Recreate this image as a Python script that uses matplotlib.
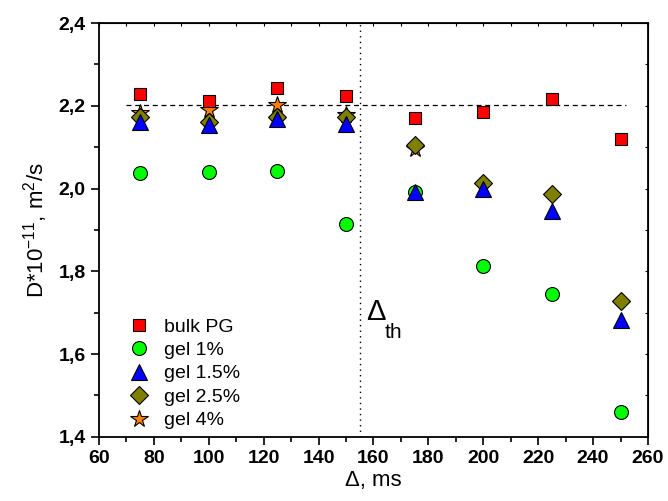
import matplotlib
matplotlib.use("Agg")
import matplotlib.pyplot as plt
from matplotlib.ticker import MultipleLocator, FuncFormatter

plt.rcParams["font.family"] = ["Liberation Sans", "DejaVu Sans"]
plt.rcParams["mathtext.fontset"] = "custom"
plt.rcParams["mathtext.rm"] = "Liberation Sans"
plt.rcParams["mathtext.it"] = "Liberation Sans:italic"

delta = [75, 100, 125, 150, 175, 200, 225, 250]
bulk_pg = [2.229, 2.212, 2.242, 2.224, 2.170, 2.186, 2.216, 2.119]
gel_1 = [2.038, 2.040, 2.042, 1.915, 1.992, 1.812, 1.745, 1.461]
gel_15 = [2.162, 2.154, 2.168, 2.156, 1.992, 2.000, 1.947, 1.683]
gel_25 = [2.172, 2.162, 2.174, 2.172, 2.106, 2.014, 1.986, 1.729]
delta_4 = [75, 100, 125, 150, 175]
gel_4 = [2.182, 2.190, 2.202, 2.178, 2.095]

bulk_level = 2.203
delta_th = 155

fig = plt.figure(figsize=(6.68, 5.01), dpi=100)
ax = fig.add_axes([0.148, 0.128, 0.822, 0.826])

kw = dict(linestyle="none", markeredgecolor="black", markeredgewidth=0.8)
h4, = ax.plot(delta_4, gel_4, marker="*", color="#FF8000", markersize=13, zorder=3, label="gel 4%", **kw)
h25, = ax.plot(delta, gel_25, marker="D", color="#808000", markersize=9, zorder=4, label="gel 2.5%", **kw)
h1, = ax.plot(delta, gel_1, marker="o", color="#00FF00", markersize=10, zorder=4, label="gel 1%", **kw)
h15, = ax.plot(delta, gel_15, marker="^", color="#0000FF", markersize=11, zorder=5, label="gel 1.5%", **kw)
hb, = ax.plot(delta, bulk_pg, marker="s", color="#FF0000", markersize=9, zorder=5, label="bulk PG", **kw)

ax.plot([70, 252], [bulk_level, bulk_level], color="black", linestyle=(0, (4, 3)), linewidth=0.9, zorder=2)
ax.axvline(delta_th, color="black", linestyle=(0, (1, 3)), linewidth=1.0, zorder=2)

ax.text(157.2, 1.683, "Δ", fontsize=21)
ax.text(164.0, 1.639, "th", fontsize=15)

ax.set_xlim(60, 260)
ax.set_ylim(1.4, 2.4)
ax.xaxis.set_major_locator(MultipleLocator(20))
ax.xaxis.set_minor_locator(MultipleLocator(10))
ax.yaxis.set_major_locator(MultipleLocator(0.2))
ax.yaxis.set_minor_locator(MultipleLocator(0.1))
ax.yaxis.set_major_formatter(FuncFormatter(lambda v, p: f"{v:.1f}".replace(".", ",")))

ax.tick_params(which="both", direction="out", top=False, right=False, width=1.2)
ax.tick_params(which="major", length=6, labelsize=14)
ax.tick_params(which="minor", length=3.5)
# faint inner ticks on the top and right frame
ax2 = ax.secondary_xaxis("top")
ax2.xaxis.set_major_locator(MultipleLocator(10))
ax2.tick_params(direction="in", length=2, width=0.8, labeltop=False)
ax3 = ax.secondary_yaxis("right")
ax3.yaxis.set_major_locator(MultipleLocator(0.1))
ax3.tick_params(direction="in", length=2, width=0.8, labelright=False)
for lab in ax.get_xticklabels() + ax.get_yticklabels():
    lab.set_fontweight("bold")
for s in ax.spines.values():
    s.set_linewidth(1.3)

ax.set_xlabel("Δ, ms", fontsize=16, labelpad=2)
ax.set_ylabel("D*10$^{-11}$, m$^2$/s", fontsize=16, labelpad=6)

ax.legend(handles=[hb, h1, h15, h25, h4], loc="lower left", bbox_to_anchor=(0.025, -0.01),
          frameon=False, fontsize=14, handletextpad=0.55, labelspacing=0.3,
          borderaxespad=0.2, handlelength=1.5)

fig.savefig("out.png", dpi=100)
